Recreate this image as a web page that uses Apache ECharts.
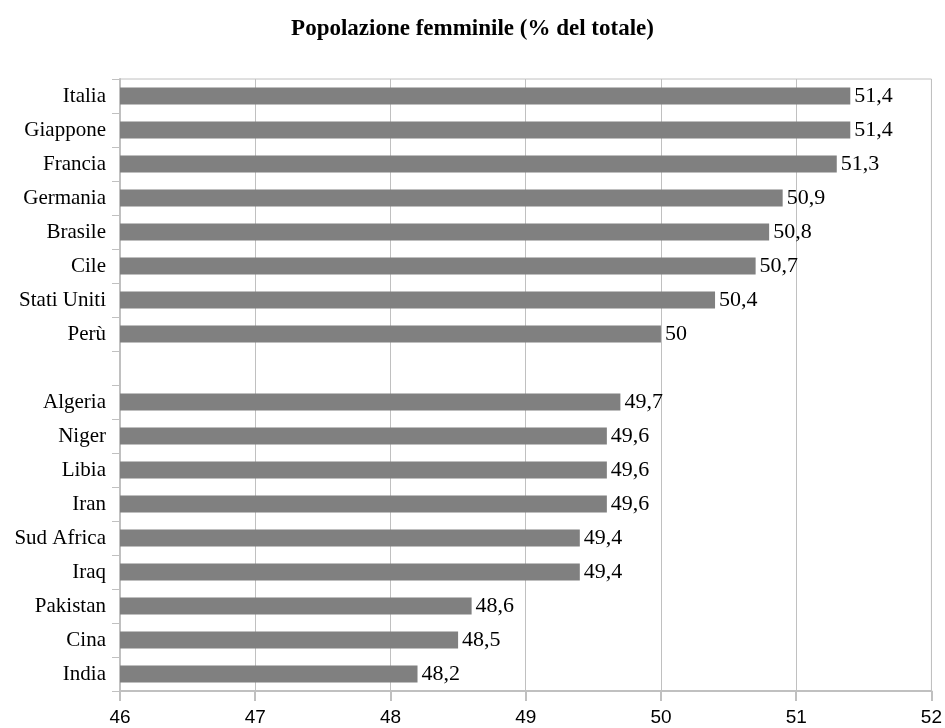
<!DOCTYPE html>
<html>
<head>
<meta charset="utf-8">
<script src="https://cdn.jsdelivr.net/npm/echarts@6/dist/echarts.min.js"></script>
<style>
  html, body { margin: 0; padding: 0; background: #fff; }
  #chart { width: 945px; height: 728px; }
</style>
</head>
<body>
<div id="chart"></div>
<script>
// Female population as a share of the total, by country
const countries = ['Italia', 'Giappone', 'Francia', 'Germania', 'Brasile', 'Cile', 'Stati Uniti', 'Perù',
  '', 'Algeria', 'Niger', 'Libia', 'Iran', 'Sud Africa', 'Iraq', 'Pakistan', 'Cina', 'India'];
const femalePct = [51.4, 51.4, 51.3, 50.9, 50.8, 50.7, 50.4, 50,
  null, 49.7, 49.6, 49.6, 49.6, 49.4, 49.4, 48.6, 48.5, 48.2];
const axisMin = 46;
const axisMax = 52;
const axisStep = 1;

const gridColor = '#c0c0c0';
const serif = '"Liberation Serif", "Times New Roman", serif';
const sans = '"Liberation Sans", Arial, sans-serif';

const chart = echarts.init(document.getElementById('chart'), null, { renderer: 'canvas' });
chart.setOption({
  animation: false,
  title: {
    text: 'Popolazione femminile (% del totale)',
    left: 'center',
    top: 13,
    textStyle: { fontFamily: serif, fontWeight: 'bold', fontSize: 23, color: '#000' }
  },
  grid: {
    left: 120, right: 13, top: 79, bottom: 37,
    show: true, borderColor: gridColor, borderWidth: 1
  },
  xAxis: {
    type: 'value',
    min: axisMin, max: axisMax, interval: axisStep,
    axisLine: { show: true, lineStyle: { color: gridColor, width: 2 } },
    axisTick: { show: true, length: 10, lineStyle: { color: gridColor, width: 2 } },
    splitLine: { show: true, lineStyle: { color: gridColor, width: 1 } },
    axisLabel: { fontFamily: sans, fontSize: 19, color: '#000', margin: 17 }
  },
  yAxis: {
    type: 'category',
    data: countries,
    inverse: true,
    axisLine: { show: true, lineStyle: { color: gridColor, width: 2 } },
    axisTick: { show: true, length: 8, lineStyle: { color: gridColor, width: 1 } },
    axisLabel: { fontFamily: serif, fontSize: 21, color: '#000', margin: 14 }
  },
  series: [{
    type: 'bar',
    data: femalePct,
    barWidth: 17,
    itemStyle: { color: '#808080' },
    label: {
      show: true,
      position: 'right',
      distance: 4,
      fontFamily: serif,
      fontSize: 22,
      color: '#000',
      formatter: p => (p.value == null ? '' : String(p.value).replace('.', ','))
    }
  }]
});
</script>
</body>
</html>
